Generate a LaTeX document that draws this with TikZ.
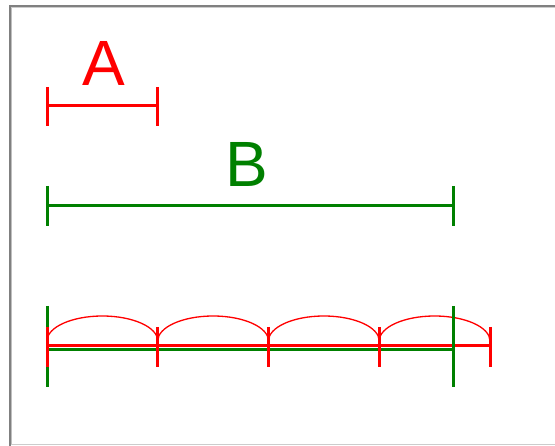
\documentclass[tikz,border=0pt]{standalone}
\usepackage{fontspec}
\setmainfont{Liberation Sans}
\definecolor{ared}{RGB}{255,0,0}
\definecolor{bgreen}{RGB}{0,128,0}
\begin{document}
\begin{tikzpicture}[x=1pt,y=-1pt,
  seg/.style={line width=3pt},
  arcline/.style={line width=1.3pt,ared},
  lbl/.style={inner sep=0pt,anchor=base,font=\fontsize{64}{64}\selectfont}]
\useasboundingbox (0,0) rectangle (555,446);
\fill[white] (0,0) rectangle (555,446);
% frame
\draw[line width=1pt,black!20] (10,444.5) -- (555,444.5);
\draw[line width=1pt,black!20] (9,7.5) -- (555,7.5);
\draw[line width=2pt,black!50] (9,6) -- (555,6);
\draw[line width=2pt,black!50] (10,5) -- (10,446);
\draw[line width=0.8pt,black!25] (11.4,8) -- (11.4,444);
% A
\node[lbl,text=ared] (A) at (104,86) {A};
\draw[seg,ared] (47,106) -- (157,106);
\draw[seg,ared] (47,87) -- (47,126);
\draw[seg,ared] (157,87) -- (157,126);
% B
\node[lbl,text=bgreen] (B) at (247,187) {B};
\draw[seg,bgreen] (47,206) -- (453,206);
\draw[seg,bgreen] (47,186) -- (47,226);
\draw[seg,bgreen] (453,186) -- (453,226);
% bottom comparison
\draw[seg,bgreen] (47,349.3) -- (453,349.3);
\draw[seg,bgreen] (47,306) -- (47,387);
\draw[seg,ared] (47,346) -- (490,346);
\foreach \x in {47,157.75,268.5,379.25,490}
  \draw[seg,ared] (\x,327) -- (\x,367);
\foreach \x in {47,157.75,268.5,379.25}
  \draw[arcline] (\x,341) arc[start angle=180,end angle=0,x radius=55.375,y radius=-25];
\draw[seg,bgreen] (453,306) -- (453,387);
\end{tikzpicture}
\end{document}
